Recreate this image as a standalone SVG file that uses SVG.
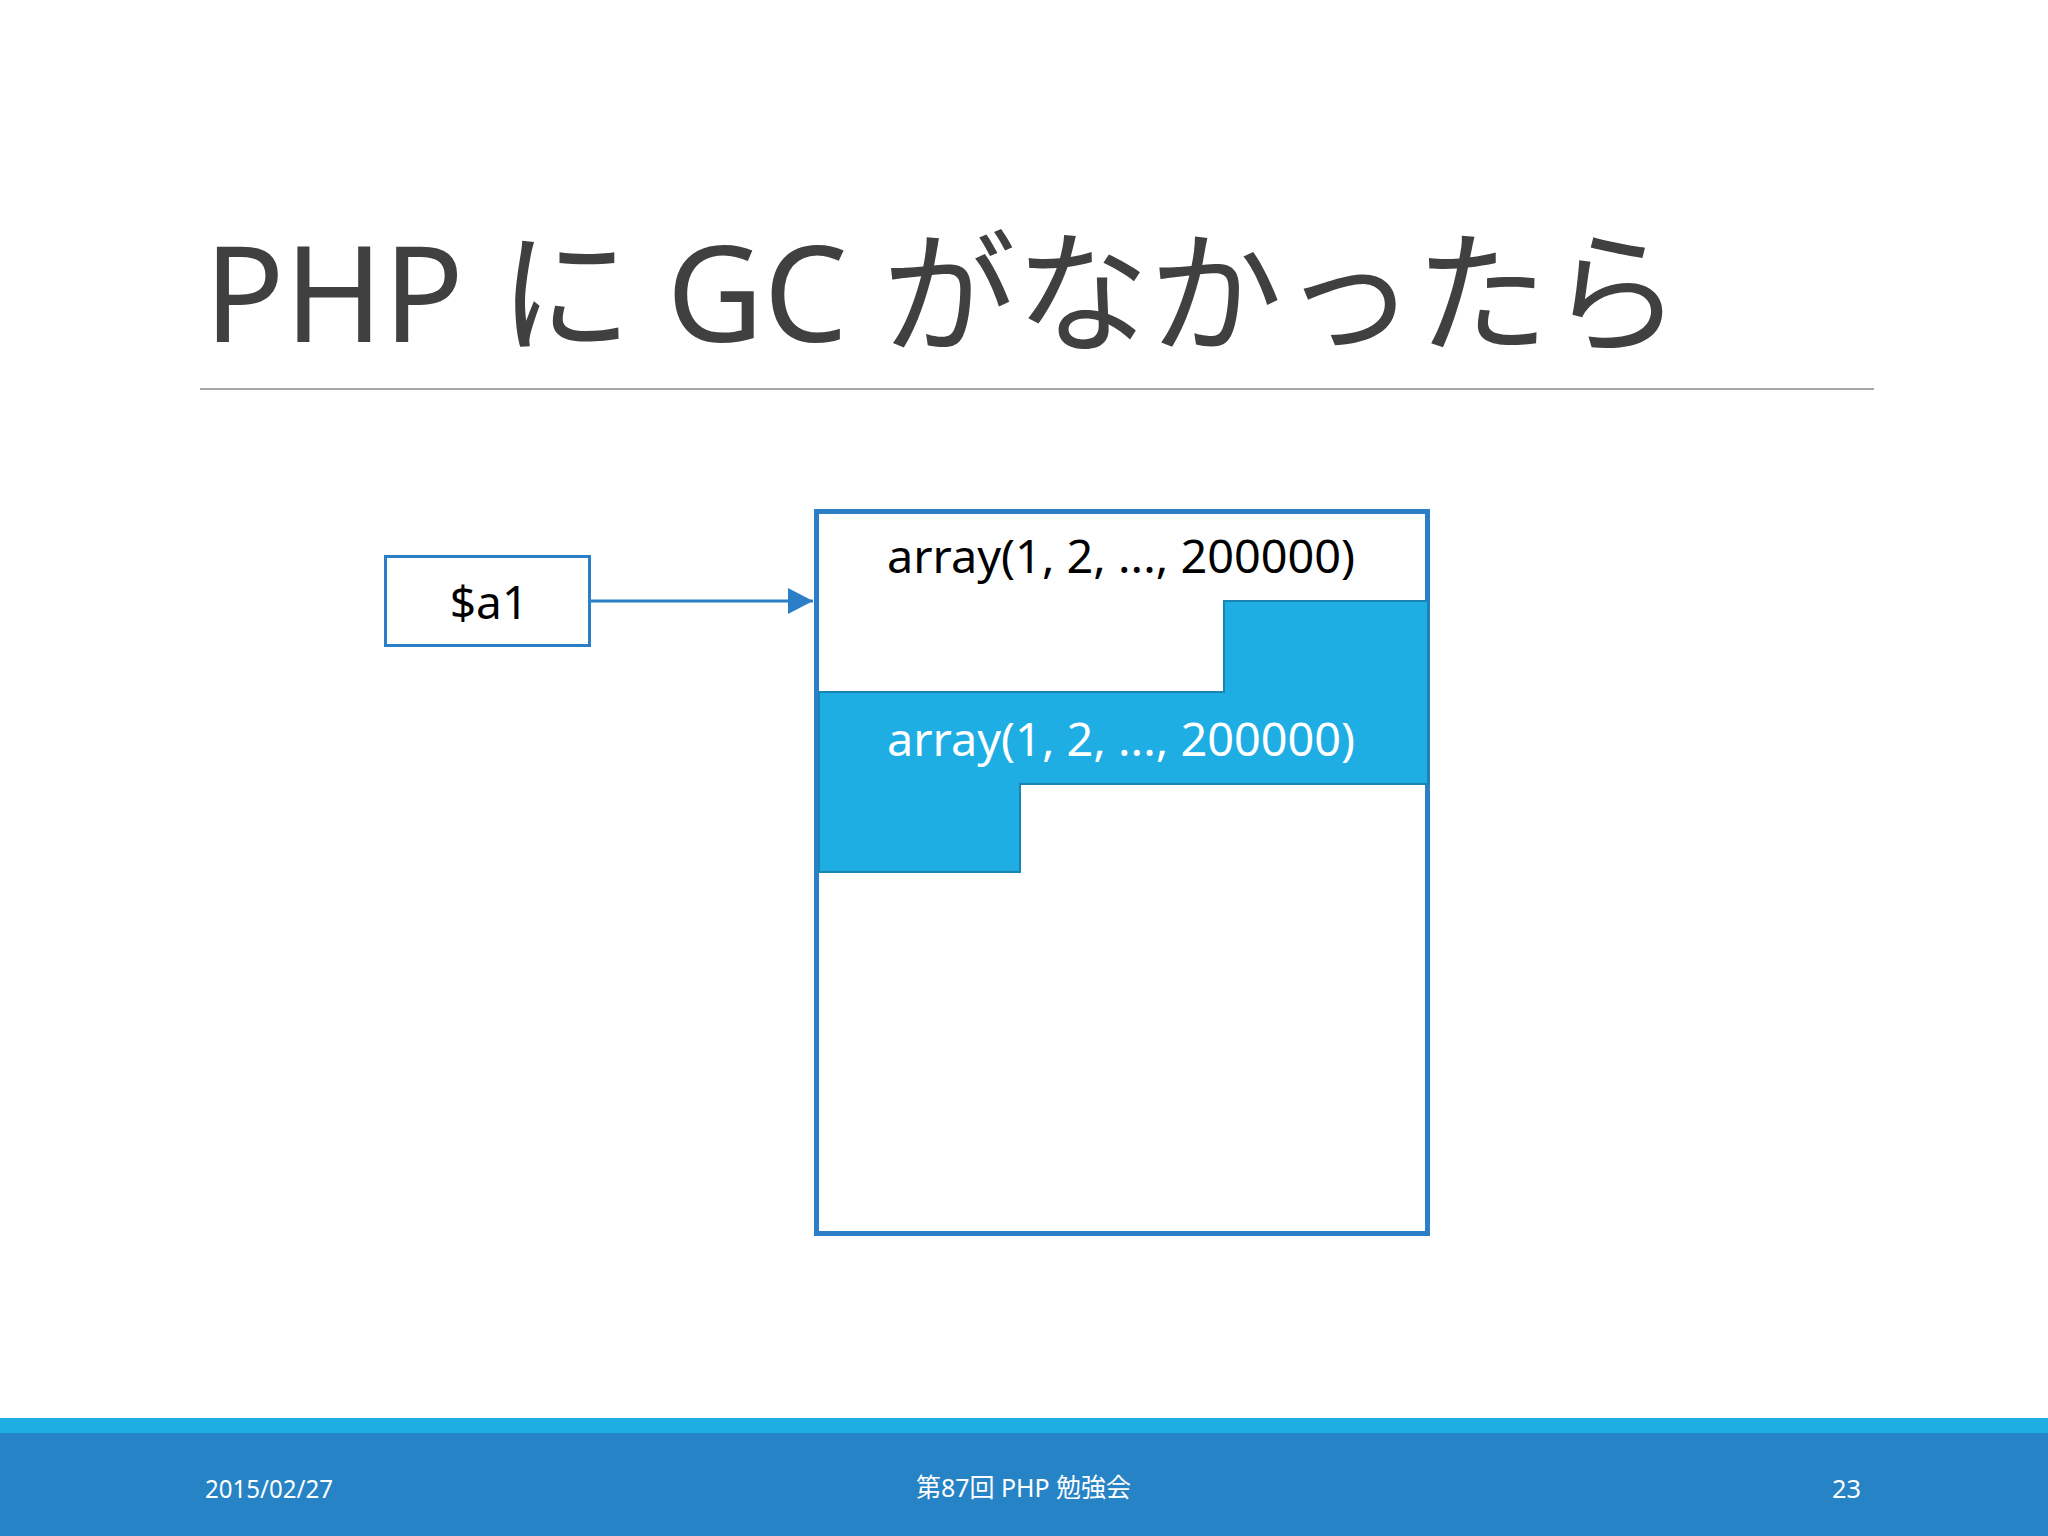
<svg xmlns="http://www.w3.org/2000/svg" width="2048" height="1536" viewBox="0 0 2048 1536">
  <defs>
    <style>
      .title { font-family: "Noto Sans", "Noto Sans CJK JP", sans-serif; font-size: 133px; fill: #404040; }
      .lbl { font-family: "Noto Sans", "Liberation Sans", sans-serif; font-size: 46px; }
      .foot { font-family: "Noto Sans", "Noto Sans CJK JP", sans-serif; font-size: 26px; fill: #ffffff; }
      .edge { stroke: #2a7fc6; fill: none; }
    </style>
    <marker id="arrow" markerWidth="25" markerHeight="26" refX="25" refY="13" orient="auto" markerUnits="userSpaceOnUse">
      <path d="M0,0 L25,13 L0,26 Z" fill="#2a7fc6"/>
    </marker>
  </defs>
  <rect width="2048" height="1536" fill="#ffffff"/>

  <text class="title" x="204" y="342" textLength="1478" lengthAdjust="spacingAndGlyphs">PHP に GC がなかったら</text>
  <line x1="200" y1="389" x2="1874" y2="389" stroke="#a6a6a6" stroke-width="2"/>

  <g id="var-a1">
    <rect x="385.5" y="556.5" width="204" height="89" fill="#ffffff" stroke="#2a7fc6" stroke-width="3"/>
    <text class="lbl" x="489" y="619" text-anchor="middle" fill="#000000">$a1</text>
  </g>

  <g id="memory">
    <rect x="816.5" y="511.5" width="611" height="722" fill="#ffffff" stroke="#2a7fc6" stroke-width="5"/>
    <polygon points="1224,601 1428,601 1428,784 1020,784 1020,872 819,872 819,692 1224,692" fill="#1eaee4" stroke="#1a85b3" stroke-width="2"/>
    <text class="lbl" x="887" y="573" textLength="468" lengthAdjust="spacingAndGlyphs" fill="#000000">array(1, 2, ..., 200000)</text>
    <text class="lbl" x="887" y="756" textLength="468" lengthAdjust="spacingAndGlyphs" fill="#ffffff">array(1, 2, ..., 200000)</text>
  </g>

  <g id="connectors">
    <line class="edge" x1="591" y1="601" x2="813" y2="601" stroke-width="3" marker-end="url(#arrow)"/>
  </g>

  <g id="footer">
    <rect x="0" y="1418" width="2048" height="16" fill="#1eaee4"/>
    <rect x="0" y="1433" width="2048" height="103" fill="#2683c6"/>
    <text class="foot" x="205" y="1498" textLength="128" lengthAdjust="spacingAndGlyphs">2015/02/27</text>
    <text class="foot" x="916" y="1497" textLength="215" lengthAdjust="spacingAndGlyphs">第87回 PHP 勉強会</text>
    <text class="foot" x="1832" y="1498" textLength="29" lengthAdjust="spacingAndGlyphs">23</text>
  </g>
</svg>
